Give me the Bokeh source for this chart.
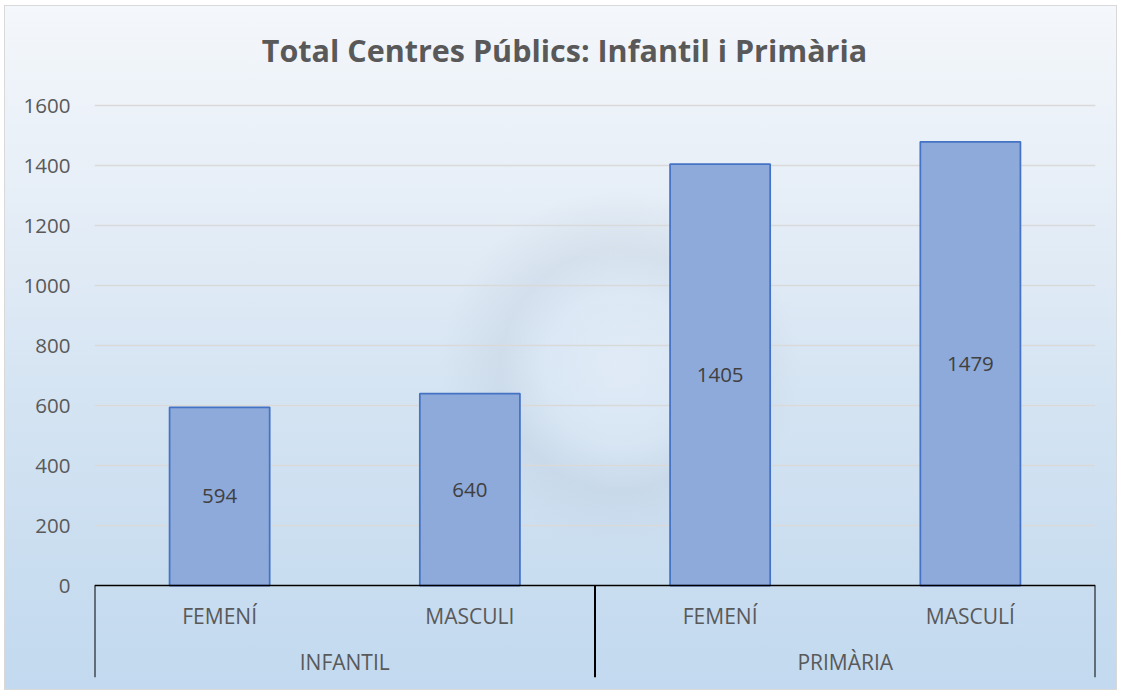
from bokeh.plotting import figure
from bokeh.models import (ColumnDataSource, FactorRange, Range1d, FixedTicker,
                          CategoricalAxis, Label)
from bokeh.embed import file_html
from bokeh.resources import INLINE
from bokeh.core.properties import value

# ---------------- data ----------------
title_text = "Total Centres Públics: Infantil i Primària"
groups = ["INFANTIL", "INFANTIL", "PRIMÀRIA", "PRIMÀRIA"]
subcats = ["FEMENÍ", "MASCULI", "FEMENÍ", "MASCULÍ"]
values = [594, 640, 1405, 1479]
group_names = ["INFANTIL", "PRIMÀRIA"]
y_ticks = [0, 200, 400, 600, 800, 1000, 1200, 1400, 1600]

# ---------------- styles ----------------
FONT = "Open Sans"
GRAY = "#595959"
DARK = "#404040"
BAR_FILL = "#8eaadb"
BAR_LINE = "#4472c4"

W, H = 1113, 685
FRAME_TOP, FRAME_BOTTOM = 0, 672      # frame spans title area down to label rows
ZERO_PX, TOP_PX = 580, 100            # pixel rows of 0 and of the top tick

factors = list(zip(groups, subcats))
src = ColumnDataSource(dict(
    x=factors,
    top=values,
    mid=[v / 2 for v in values],
    label=[str(v) for v in values],
))

x_range = FactorRange(*factors, range_padding=0, factor_padding=0,
                      group_padding=0, subgroup_padding=0)
ymax_tick = y_ticks[-1]
per_px = ymax_tick / (ZERO_PX - TOP_PX)
y_range = Range1d(-(FRAME_BOTTOM - ZERO_PX) * per_px,
                  ymax_tick + (TOP_PX - FRAME_TOP) * per_px)
ymin = y_range.start

bg = ("radial-gradient(circle at 616px 365px, rgba(226,236,247,0.80) 0px, "
      "rgba(220,232,245,0.55) 75px, rgba(186,200,216,0.30) 120px, "
      "rgba(200,215,232,0) 180px), "
      "linear-gradient(to bottom, #f4f7fb 0%, #e6eef7 28%, #d3e3f2 60%, #c2d9ef 100%)")

p = figure(width=W, height=H, x_range=x_range, y_range=y_range,
           output_backend="svg", toolbar_location=None, tools="",
           min_border_left=90, min_border_right=22, min_border_top=FRAME_TOP,
           min_border_bottom=H - FRAME_BOTTOM,
           styles={"background": bg, "box-shadow": "inset 0 0 0 1px #d9d9d9",
                   "margin-left": "4px", "margin-top": "5px"})
p.background_fill_color = None
p.border_fill_color = None
p.outline_line_color = None

# y axis & grid
yt = FixedTicker(ticks=y_ticks)
p.yaxis.ticker = yt
p.ygrid.ticker = yt
p.ygrid.grid_line_color = "#d9d9d9"
p.ygrid.grid_line_width = 1.5
p.xgrid.visible = False
p.yaxis.axis_line_color = None
p.yaxis.major_tick_line_color = None
p.yaxis.minor_tick_line_color = None
p.yaxis.major_tick_out = 0
p.yaxis.major_tick_in = 0
p.yaxis.major_label_standoff = 24
p.yaxis.major_label_text_font = FONT
p.yaxis.major_label_text_font_size = "20.5px"
p.yaxis.major_label_text_color = GRAY

# bars
p.vbar(x="x", top="top", width=0.4, source=src, fill_color=BAR_FILL,
       line_color=BAR_LINE, line_width=1.75)

# data labels
p.text(x="x", y="mid", text="label", source=src, text_align="center",
       text_baseline="middle", text_font=value(FONT),
       text_font_size="20.5px", text_color=DARK)

# group separators
bounds = [0]
for g in group_names:
    bounds.append(bounds[-1] + groups.count(g))
p.segment(x0=bounds, y0=[0] * len(bounds), x1=bounds,
          y1=[ymin] * len(bounds), line_color="black", line_width=2)

# leaf category axis at y = 0
xa = p.xaxis[0]
xa.fixed_location = 0
xa.axis_line_color = "black"
xa.axis_line_width = 1.5
xa.major_tick_line_color = None
xa.minor_tick_line_color = None
xa.major_tick_out = 0
xa.major_tick_in = 0
xa.separator_line_color = None
xa.major_label_standoff = 16
xa.major_label_text_font = FONT
xa.major_label_text_font_size = "21px"
xa.major_label_text_color = GRAY
xa.group_text_color = None
xa.group_text_alpha = 0

# group axis
p.extra_x_ranges = {"grp": FactorRange(*group_names, range_padding=0,
                                       factor_padding=0)}
ga = CategoricalAxis(x_range_name="grp", fixed_location=0)
ga.axis_line_color = None
ga.major_tick_line_color = None
ga.minor_tick_line_color = None
ga.major_tick_out = 0
ga.major_tick_in = 0
ga.major_label_standoff = 62
ga.major_label_text_font = FONT
ga.major_label_text_font_size = "21px"
ga.major_label_text_color = GRAY
p.add_layout(ga, "below")

# title (centred on the whole chart)
p.add_layout(Label(x=(W / 2) - 90 + 3.5, y=FRAME_BOTTOM - 44,
                   x_units="screen", y_units="screen",
                   text=title_text, text_align="center",
                   text_baseline="alphabetic", text_font=FONT,
                   text_font_size="30.5px", text_font_style="bold",
                   text_color=GRAY))

open("out.html", "w").write(file_html(p, INLINE))
